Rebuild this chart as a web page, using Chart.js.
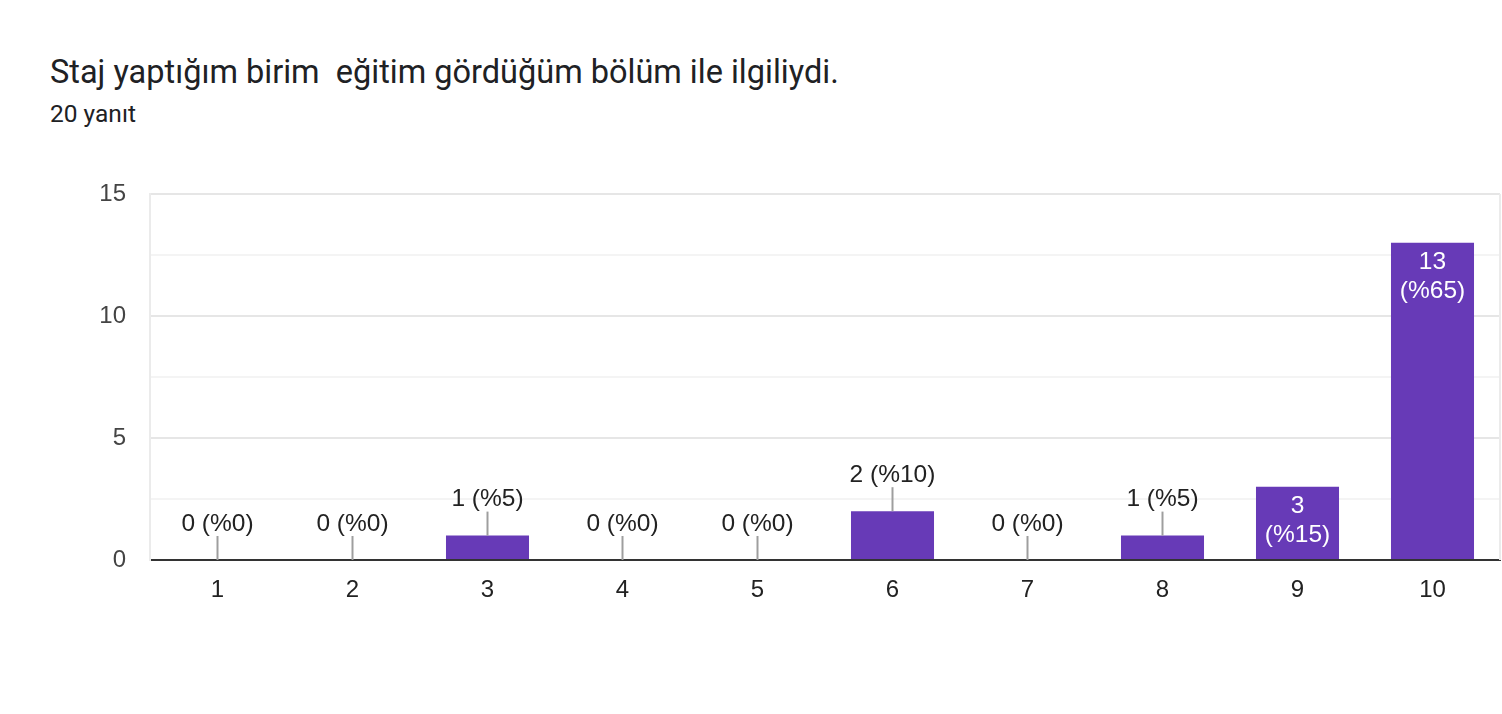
<!DOCTYPE html>
<html>
<head>
<meta charset="utf-8">
<script src="https://cdn.jsdelivr.net/npm/chart.js@4"></script>
<style>
  html, body { margin: 0; padding: 0; background: #fff; }
  #wrap { position: relative; width: 1502px; height: 714px; }
  #title { position: absolute; left: 50px; top: 56px; font: 32.5px Roboto; line-height: 1; color: #202124; white-space: pre; }
  #sub { position: absolute; left: 50px; top: 102px; font: 24.5px Roboto; line-height: 1; color: #202124; }
  canvas { position: absolute; left: 0; top: 0; }
</style>
</head>
<body>
<div id="wrap">
  <div id="title">Staj yaptığım birim  eğitim gördüğüm bölüm ile ilgiliydi.</div>
  <div id="sub">20 yanıt</div>
  <canvas id="myChart" width="1502" height="714"></canvas>
</div>
<script>
const categories = ['1', '2', '3', '4', '5', '6', '7', '8', '9', '10']
const counts = [0, 0, 1, 0, 0, 2, 0, 1, 3, 13]
const percents = [0, 0, 5, 0, 0, 10, 0, 5, 15, 65]
const yTicks = [0, 5, 10, 15]

const labelFont = '24.5px "Liberation Sans", Arial, sans-serif'

// labels above small bars (with a leader line), inside big ones
const barLabels = {
  id: 'barLabels',
  afterDatasetsDraw(chart) {
    const ctx = chart.ctx
    const meta = chart.getDatasetMeta(0)
    ctx.save()
    ctx.font = labelFont
    ctx.textAlign = 'center'
    ctx.textBaseline = 'middle'
    meta.data.forEach((bar, i) => {
      const v = counts[i]
      if (v >= 3) {
        ctx.fillStyle = '#ffffff'
        ctx.fillText(`${v}`, bar.x, bar.y + 19)
        ctx.fillText(`(%${percents[i]})`, bar.x, bar.y + 48)
      } else {
        ctx.strokeStyle = '#9e9e9e'
        ctx.lineWidth = 2
        ctx.beginPath()
        ctx.moveTo(bar.x, bar.y)
        ctx.lineTo(bar.x, bar.y - 24)
        ctx.stroke()
        ctx.fillStyle = '#222222'
        ctx.fillText(`${v} (%${percents[i]})`, bar.x, bar.y - 36)
      }
    })
    // right frame line
    const a = chart.chartArea
    ctx.strokeStyle = '#ebebeb'
    ctx.lineWidth = 2
    ctx.beginPath()
    ctx.moveTo(a.right, a.top)
    ctx.lineTo(a.right, a.bottom)
    ctx.stroke()
    ctx.restore()
  }
}

const ctx = document.getElementById('myChart')

const myChart = new Chart(ctx, {
  type: 'bar',
  data: {
    labels: categories,
    datasets: [{
      data: counts,
      backgroundColor: '#673ab7',
      barPercentage: 0.615,
      categoryPercentage: 1
    }]
  },
  options: {
    responsive: false,
    animation: false,
    layout: { padding: { top: 194, right: 2, bottom: 0, left: 0 } },
    plugins: {
      legend: { display: false },
      tooltip: { enabled: false }
    },
    scales: {
      x: {
        grid: { display: false, drawTicks: false },
        border: { color: '#333333', width: 2 },
        ticks: { color: '#222222', font: { family: '"Liberation Sans", Arial', size: 24 }, padding: 16 },
        afterFit: (s) => { s.height = 154 }
      },
      y: {
        min: 0,
        max: 15,
        afterBuildTicks: (s) => { s.ticks = [0, 2.5, 5, 7.5, 10, 12.5, 15].map(v => ({ value: v })) },
        grid: {
          drawTicks: false,
          color: (c) => yTicks.includes(c.tick.value) ? '#e6e6e6' : '#f4f4f4',
          lineWidth: 2
        },
        border: { color: '#ebebeb', width: 2 },
        ticks: {
          color: '#444444',
          font: { family: '"Liberation Sans", Arial', size: 24 },
          padding: 24,
          callback: (v) => yTicks.includes(v) ? `${v}` : ''
        },
        afterFit: (s) => { s.width = 150 }
      }
    }
  },
  plugins: [barLabels]
})
</script>
</body>
</html>
